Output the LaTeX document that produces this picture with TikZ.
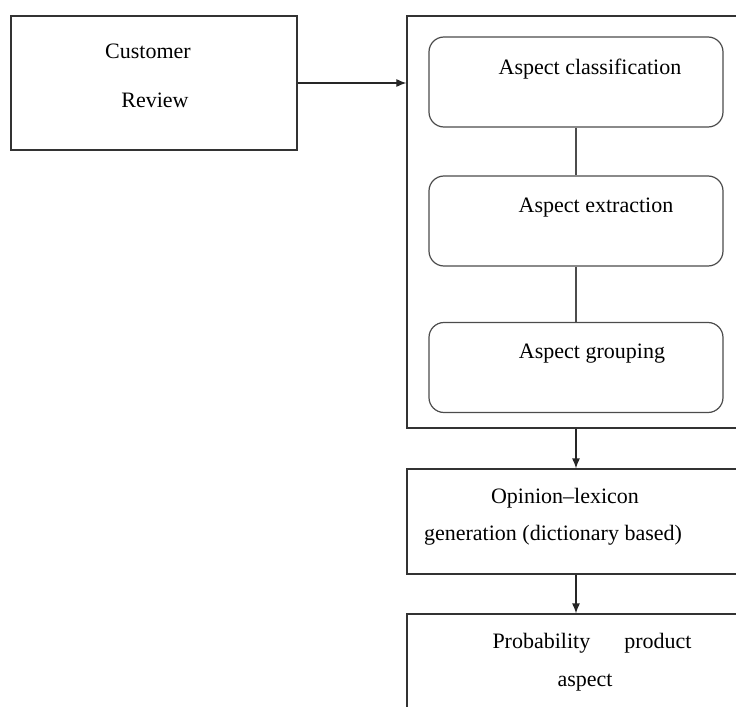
\documentclass[tikz,border=0pt]{standalone}
\usepackage{fontspec}
\setmainfont{Liberation Serif}
\usetikzlibrary{arrows.meta}

\tikzset{
  block/.style={draw=black!80, line width=0.6pt, inner sep=0pt},
  stepbox/.style={draw=black!70, line width=0.6pt, rounded corners=7.5pt,
    minimum width=147pt, minimum height=45pt, inner sep=0pt},
  txt/.style={font=\fontsize{11}{13}\selectfont, inner sep=0pt},
  flow/.style={line width=0.6pt, draw=black!85, -{Latex[length=5pt,width=4pt]}},
  link/.style={line width=0.6pt, draw=black!70}
}

\begin{document}
\begin{tikzpicture}[x=0.5pt, y=-0.5pt]
  \useasboundingbox (0,0) rectangle (736,707);
  \clip (0,0) rectangle (736,707);
  % input: customer review
  \node[block, minimum width=143pt, minimum height=67pt] (review) at (154,83) {};
  \node[txt] (reviewa) at (148,51) {Customer};
  \node[txt] (reviewb) at (155,100) {Review};
  % aspect stage, runs off the right edge
  \node[block, minimum width=181.5pt, minimum height=206pt] (stage) at (588.5,222) {};
  \node[stepbox] (classify) at (576,82) {};
  \node[txt] (classifyt) at (590,69) {Aspect classification};
  \node[stepbox] (extract) at (576,221) {};
  \node[txt] (extractt) at (596,208) {Aspect extraction};
  \node[stepbox] (group) at (576,367.5) {};
  \node[txt] (groupt) at (592,354) {Aspect grouping};
  \draw[link] (classify.south) -- (extract.north);
  \draw[link] (extract.south) -- (group.north);
  % lexicon generation
  \node[block, minimum width=181.5pt, minimum height=52.5pt] (lexicon) at (588.5,521.5) {};
  \node[txt] (lexicona) at (565,498) {Opinion--lexicon};
  \node[txt] (lexiconb) at (553,535) {generation (dictionary based)};
  % probability, cut off at the bottom
  \node[block, minimum width=181.5pt, minimum height=73pt] (prob) at (588.5,687) {};
  \node[txt] (proba) at (592,643) {Probability\hspace{17pt}product};
  \node[txt] (probb) at (585,683) {aspect};
  % arrows between the stages
  \draw[flow] (review.east) -- (review.east -| stage.west);
  \draw[flow] (stage.south -| classify.south) -- (lexicon.north -| classify.south);
  \draw[flow] (lexicon.south -| classify.south) -- (prob.north -| classify.south);
\end{tikzpicture}
\end{document}
